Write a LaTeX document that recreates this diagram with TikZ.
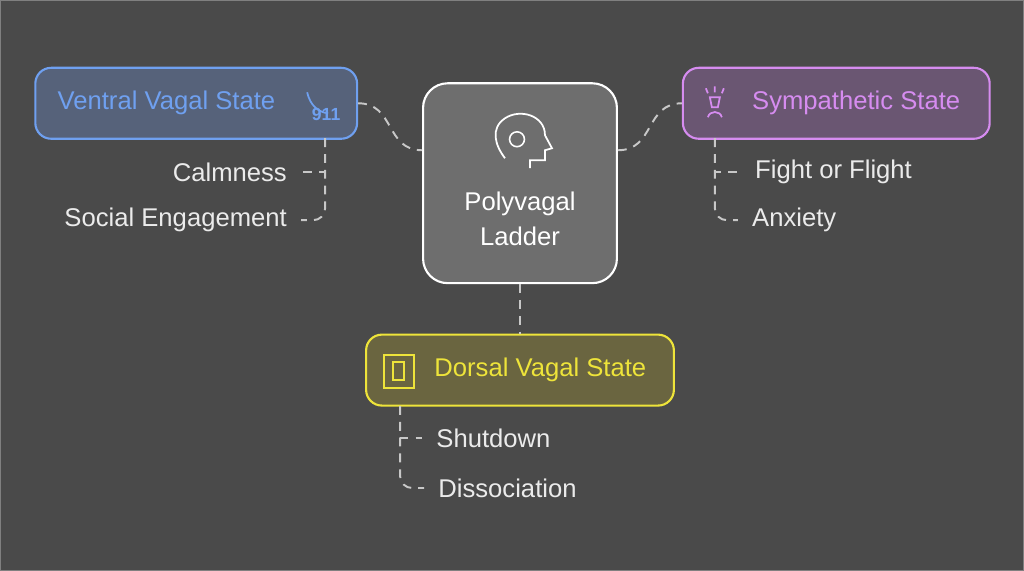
\documentclass[tikz,border=0pt]{standalone}
\usepackage{fontspec}
\setmainfont{Liberation Sans}
\usetikzlibrary{positioning}
\definecolor{bgc}{HTML}{4A4A4A}
\definecolor{ventral}{HTML}{6FA0F0}
\definecolor{ventralbg}{HTML}{56627A}
\definecolor{symp}{HTML}{D68CF0}
\definecolor{sympbg}{HTML}{6A5672}
\definecolor{dorsal}{HTML}{EEE43A}
\definecolor{dorsalbg}{HTML}{6A6540}
\definecolor{centerbg}{HTML}{6E6E6E}
\definecolor{linec}{HTML}{C8C8C8}
\tikzset{
  state/.style={draw, rounded corners=9pt, line width=1.2pt, minimum height=71*0.02cm, inner sep=0pt},
  title/.style={anchor=west, inner sep=0pt, font=\fontsize{14.6}{17}\selectfont},
  item/.style={text=white!92!black, font=\fontsize{14.6}{17}\selectfont, inner sep=0pt},
  link/.style={draw=linec, line width=1.1pt, dash pattern=on 5pt off 4pt},
}
\begin{document}
\begin{tikzpicture}[x=0.02cm,y=-0.02cm]
  \useasboundingbox[fill=bgc, draw=gray] (0,0) rectangle (1024,570);
  % states
  \node[state, fill=ventralbg, draw=ventral, minimum width=322*0.02cm] (ventral) at (196,103) {};
  \node[state, fill=sympbg, draw=symp, minimum width=307*0.02cm] (symp) at (836.5,103) {};
  \node[state, fill=dorsalbg, draw=dorsal, minimum width=308*0.02cm] (dorsal) at (520,370) {};
  \node[state, fill=centerbg, draw=white, rounded corners=14pt, minimum width=194*0.02cm, minimum height=200*0.02cm, text=white, align=center, font=\fontsize{14.6}{17}\selectfont] (ladder) at (520,183) {\\[34pt]Polyvagal\\[3pt]Ladder};
  \node[title, text=ventral] (vtitle) at (57,103) {Ventral Vagal State};
  \node[title, text=symp] (stitle) at (752,103) {Sympathetic State};
  \node[title, text=dorsal] (dtitle) at (434,370) {Dorsal Vagal State};
  % icons
  \draw[ventral, line width=1pt] (307,92) .. controls (310,105) and (318,112) .. (328,113);
  \node[ventral, font=\fontsize{10}{10}\selectfont\bfseries] (num) at (326,114) {911};
  \draw[white, line width=1pt] (505,158) .. controls (495,145) and (490,128) .. (505,118) .. controls (520,108) and (545,115) .. (545,135) -- (552,148) -- (545,150) -- (545,160) -- (530,160) -- (530,168);
  \node[draw=white, circle, inner sep=3pt, line width=0.9pt] (flower) at (517,139) {};
  \draw[symp, line width=1pt] (710,97) -- (720,97) -- (718,107) -- (712,107) -- cycle (708,117) .. controls (710,110) and (720,110) .. (722,117)
    (706,88) -- (708,93) (715,86) -- (715,92) (724,88) -- (722,93);
  \draw[dorsal, line width=1pt] (384,355) rectangle (414,388) (393,362) rectangle (404,380);
  % connectors
  \draw[link] (ventral.east) .. controls (395,103) and (385,150) .. ([yshift=33*0.02cm]ladder.west);
  \draw[link] ([yshift=33*0.02cm]ladder.east) .. controls (655,150) and (645,103) .. (symp.west);
  \draw[link] (ladder.south) -- (dorsal.north);
  % items
  \node[item, anchor=east] (calm) at (287,172) {Calmness};
  \node[item, anchor=east] (social) at (287,220) {Social Engagement};
  \node[item, anchor=west] (fight) at (755,172) {Fight or Flight};
  \node[item, anchor=west] (anx) at (752,220) {Anxiety};
  \node[item, anchor=west] (shut) at (436,438) {Shutdown};
  \node[item, anchor=west] (diss) at (438,488) {Dissociation};
  \coordinate (vb) at (325,138);
  \coordinate (sb) at (715,138);
  \coordinate (db) at (400,406);
  \draw[link] (vb) |- ([xshift=8pt]calm.east);
  \draw[link] (vb) -- (325,208) arc (0:90:12) -- ([xshift=8pt]social.east);
  \draw[link] (sb) |- ([xshift=-8pt]fight.west);
  \draw[link] (sb) -- (715,208) arc (180:90:12) -- ([xshift=-8pt]anx.west);
  \draw[link] (db) |- ([xshift=-8pt]shut.west);
  \draw[link] (db) -- (400,476) arc (180:90:12) -- ([xshift=-8pt]diss.west);
\end{tikzpicture}
\end{document}
